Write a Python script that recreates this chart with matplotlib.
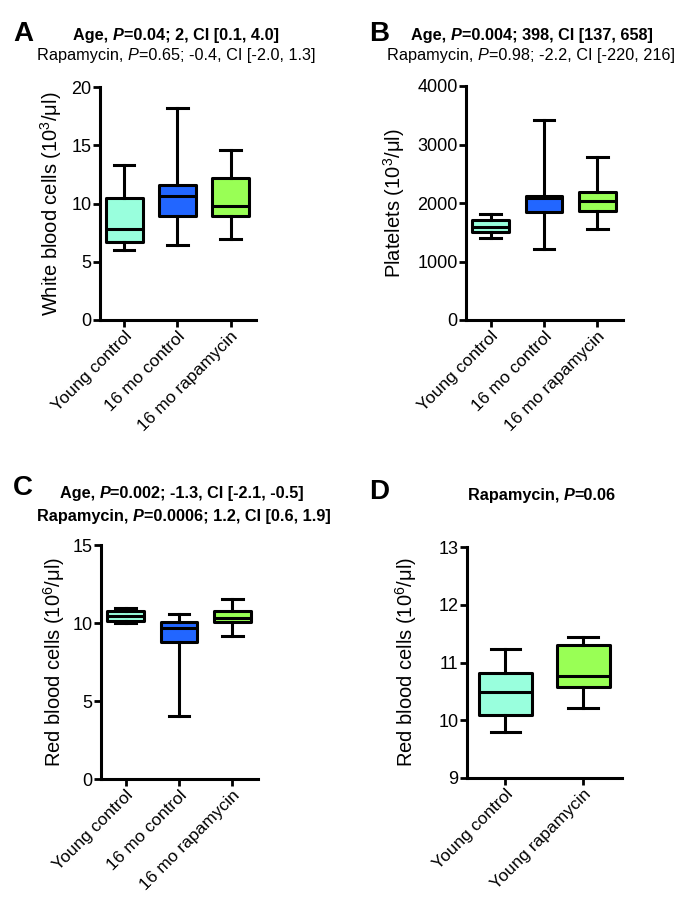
import matplotlib
matplotlib.use("Agg")
import matplotlib.pyplot as plt

plt.rcParams['font.family'] = ['Liberation Sans', 'DejaVu Sans']
plt.rcParams['mathtext.fontset'] = 'custom'
plt.rcParams['mathtext.rm'] = 'Liberation Sans'
plt.rcParams['mathtext.it'] = 'Liberation Sans:italic'
plt.rcParams['mathtext.bf'] = 'Liberation Sans:bold'

# box statistics: whisker low, Q1, median, Q3, whisker high
a_groups = ['Young control', '16 mo control', '16 mo rapamycin']
a_low = [6.0, 6.4, 6.95]
a_q1 = [6.7, 8.95, 8.95]
a_med = [7.8, 10.65, 9.8]
a_q3 = [10.45, 11.6, 12.15]
a_high = [13.3, 18.2, 14.55]

b_groups = ['Young control', '16 mo control', '16 mo rapamycin']
b_low = [1400, 1210, 1550]
b_q1 = [1510, 1840, 1870]
b_med = [1595, 2085, 2040]
b_q3 = [1710, 2125, 2185]
b_high = [1820, 3420, 2790]

c_groups = ['Young control', '16 mo control', '16 mo rapamycin']
c_low = [10.02, 4.02, 9.17]
c_q1 = [10.15, 8.76, 10.06]
c_med = [10.42, 9.7, 10.32]
c_q3 = [10.8, 10.04, 10.75]
c_high = [10.95, 10.58, 11.52]

d_groups = ['Young control', 'Young rapamycin']
d_low = [9.8, 10.22]
d_q1 = [10.09, 10.58]
d_med = [10.49, 10.77]
d_q3 = [10.81, 11.3]
d_high = [11.23, 11.45]

col_young = '#99FFDD'
col_old = '#2266FF'
col_rapa = '#99FF55'

W, H = 688, 918
fig = plt.figure(figsize=(W / 100, H / 100), dpi=100)


def add_axes_px(left, top, right, bottom):
    return fig.add_axes([left / W, 1 - bottom / H, (right - left) / W, (bottom - top) / H])


def draw_box(ax, groups, low, q1, med, q3, high, colors, width):
    stats = []
    for i, g in enumerate(groups):
        stats.append({'label': g, 'whislo': low[i], 'q1': q1[i], 'med': med[i],
                      'q3': q3[i], 'whishi': high[i], 'fliers': []})
    lw = 2.2
    res = ax.bxp(stats, positions=range(len(groups)), widths=width, patch_artist=True,
                 showfliers=False,
                 boxprops=dict(linewidth=lw, edgecolor='black'),
                 medianprops=dict(linewidth=lw, color='black'),
                 whiskerprops=dict(linewidth=lw, color='black'),
                 capprops=dict(linewidth=lw, color='black'),
                 capwidths=width * 0.55)
    for patch, c in zip(res['boxes'], colors):
        patch.set_facecolor(c)
        patch.set_joinstyle('round')
    ax.set_xticks(range(len(groups)))
    ax.set_xticklabels(groups, rotation=45, ha='right', rotation_mode='anchor', fontsize=12.5)
    for s in ['top', 'right']:
        ax.spines[s].set_visible(False)
    for s in ['left', 'bottom']:
        ax.spines[s].set_linewidth(2.2)
    ax.tick_params(width=2.0, length=5, labelsize=13, pad=1)
    ax.tick_params(axis='x', labelsize=12.5)


def rich_line(xc, y, pieces, size):
    # pieces: (text, weight, style); laid out left to right, centred at xc (pixels)
    renderer = fig.canvas.get_renderer()
    texts = []
    widths = []
    for s, w, st in pieces:
        t = fig.text(0, 1 - y / H, s, fontsize=size, fontweight=w, fontstyle=st,
                     ha='left', va='baseline')
        widths.append(t.get_window_extent(renderer).width)
        texts.append(t)
    x = xc - sum(widths) / 2
    for t, wd in zip(texts, widths):
        t.set_x(x / W)
        x += wd


def panel_letter(x, y, s):
    fig.text(x / W, 1 - y / H, s, fontsize=20, fontweight='bold', ha='left', va='baseline')


# A
axA = add_axes_px(100, 87, 256, 320)
draw_box(axA, a_groups, a_low, a_q1, a_med, a_q3, a_high, [col_young, col_old, col_rapa], 0.69)
axA.set_xlim(-0.46, 2.48)
axA.set_ylim(0, 20)
axA.set_yticks([0, 5, 10, 15, 20])
axA.set_ylabel(r'White blood cells (10$^{3}$/μl)', fontsize=14.5)
axA.yaxis.set_label_coords(-0.23, 0.5)

# B
axB = add_axes_px(466, 86, 623, 320)
draw_box(axB, b_groups, b_low, b_q1, b_med, b_q3, b_high, [col_young, col_old, col_rapa], 0.69)
axB.set_xlim(-0.46, 2.48)
axB.set_ylim(0, 4000)
axB.set_yticks([0, 1000, 2000, 3000, 4000])
axB.set_ylabel(r'Platelets (10$^{3}$/μl)', fontsize=14.5)
axB.yaxis.set_label_coords(-0.376, 0.5)

# C
axC = add_axes_px(101, 545, 258, 779)
draw_box(axC, c_groups, c_low, c_q1, c_med, c_q3, c_high, [col_young, col_old, col_rapa], 0.69)
axC.set_xlim(-0.46, 2.48)
axC.set_ylim(0, 15)
axC.set_yticks([0, 5, 10, 15])
axC.set_ylabel(r'Red blood cells (10$^{6}$/μl)', fontsize=14.5)
axC.yaxis.set_label_coords(-0.217, 0.5)

# D
axD = add_axes_px(467, 547, 622, 778)
draw_box(axD, d_groups, d_low, d_q1, d_med, d_q3, d_high, [col_young, col_rapa], 0.68)
axD.set_xlim(-0.49, 1.5)
axD.set_ylim(9, 13)
axD.set_yticks([9, 10, 11, 12, 13])
axD.set_ylabel(r'Red blood cells (10$^{6}$/μl)', fontsize=14.5)
axD.yaxis.set_label_coords(-0.31, 0.5)

# headers
fs = 11.7
panel_letter(13, 41, 'A')
rich_line(176, 40, [('Age, ', 'bold', 'normal'), ('P', 'bold', 'italic'),
                    ('=0.04; 2, CI [0.1, 4.0]', 'bold', 'normal')], fs)
rich_line(176, 60, [('Rapamycin, ', 'normal', 'normal'), ('P', 'normal', 'italic'),
                    ('=0.65; -0.4, CI [-2.0, 1.3]', 'normal', 'normal')], fs)

panel_letter(369, 41, 'B')
rich_line(532, 40, [('Age, ', 'bold', 'normal'), ('P', 'bold', 'italic'),
                    ('=0.004; 398, CI [137, 658]', 'bold', 'normal')], fs)
rich_line(531, 60, [('Rapamycin, ', 'normal', 'normal'), ('P', 'normal', 'italic'),
                    ('=0.98; -2.2, CI [-220, 216]', 'normal', 'normal')], fs)

panel_letter(13, 495, 'C')
rich_line(182, 498, [('Age, ', 'bold', 'normal'), ('P', 'bold', 'italic'),
                     ('=0.002; -1.3, CI [-2.1, -0.5]', 'bold', 'normal')], fs)
rich_line(184, 521, [('Rapamycin, ', 'bold', 'normal'), ('P', 'bold', 'italic'),
                     ('=0.0006; 1.2, CI [0.6, 1.9]', 'bold', 'normal')], fs)

panel_letter(369, 499, 'D')
rich_line(542, 500, [('Rapamycin, ', 'bold', 'normal'), ('P', 'bold', 'italic'),
                     ('=0.06', 'bold', 'normal')], fs)

fig.savefig('out.png', dpi=100)
